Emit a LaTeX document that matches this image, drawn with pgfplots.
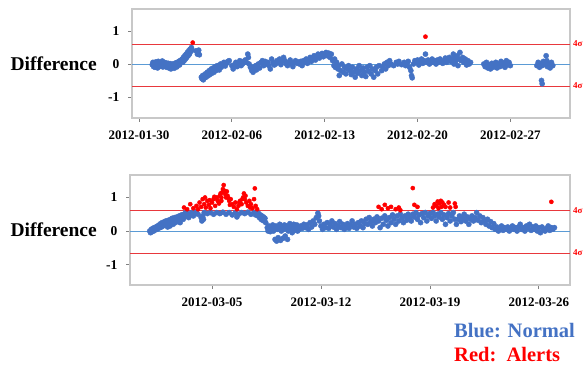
\documentclass[border=0pt]{standalone}
\usepackage{fontspec}
\setmainfont{Liberation Serif}
\usepackage{pgfplots}
\pgfplotsset{compat=1.18}
\definecolor{ptblue}{HTML}{4472C4}
\definecolor{zeroblue}{HTML}{5B9BD5}
\definecolor{limred}{HTML}{E8383D}
\definecolor{framegray}{HTML}{C8C8C8}
\pgfplotsset{diffaxis/.style={
  scale only axis,
  axis line style={draw=framegray, line width=1.6pt},
  tick style={draw=gray, line width=0.8pt},
  tick align=outside, major tick length=4pt,
  xtick pos=bottom, ytick pos=left,
  ytick={-1,0,1}, yticklabels={-1,0,1},
  yticklabel style={font=\bfseries\fontsize{13.5}{14}\selectfont, xshift=-5pt},
  xticklabel style={font=\bfseries\fontsize{13}{14}\selectfont, yshift=-5pt},
  /pgf/number format/assume math mode=true,
  clip=true,
}}
\begin{document}
\begin{tikzpicture}
\path[use as bounding box] (-132pt,-248pt) rectangle (453pt,118pt);
% ---------- top panel ----------
\begin{axis}[diffaxis, at={(0,0)}, anchor=south west,
  width=438pt, height=109pt,
  xmin=-0.53, xmax=32.5, ymin=-1.64, ymax=1.67,
  xtick={0,7,14,21,28},
  xticklabels={2012-01-30,2012-02-06,2012-02-13,2012-02-20,2012-02-27}]
\addplot[zeroblue, line width=0.9pt] coordinates {(-0.53,0)(32.5,0)};
\addplot[limred, line width=1.1pt] coordinates {(-0.53,0.6)(32.5,0.6)};
\addplot[limred, line width=1.1pt] coordinates {(-0.53,-0.68)(32.5,-0.68)};
\addplot[only marks, mark=*, mark size=2.6pt, ptblue] coordinates {
(1.0,-0.02)(1.05,0.05)(1.1,-0.08)(1.15,0.0)(1.2,-0.1)(1.25,0.06)(1.3,-0.03)(1.35,0.02)(1.4,-0.12)(1.45,0.08)(1.5,-0.05)(1.55,0.01)(1.6,-0.07)(1.65,0.04)(1.7,-0.02)(1.75,0.09)(1.8,-0.09)(1.85,0.0)(1.9,0.05)(1.95,-0.04)(2.0,-0.08)(2.05,0.03)(2.1,-0.1)(2.15,-0.02)(2.2,0.02)(2.25,-0.12)(2.3,-0.05)(2.35,0.01)(2.4,-0.15)(2.45,-0.06)(2.5,-0.1)(2.55,0.0)(2.6,-0.04)(2.65,-0.13)(2.7,-0.07)(2.75,0.03)(2.8,-0.02)(2.85,-0.09)(2.9,0.05)(2.95,0.0)(3.0,0.08)(3.05,-0.03)(3.1,0.1)(3.15,0.04)(3.2,0.12)
(3.25,0.15)(3.3,0.05)(3.35,0.2)(3.4,0.1)(3.45,0.25)(3.5,0.15)(3.55,0.3)(3.6,0.2)(3.65,0.35)(3.7,0.25)(3.75,0.4)(3.8,0.3)(3.85,0.45)(3.9,0.38)(3.95,0.5)(4.0,0.42)
(4.3,0.4)(4.4,0.3)(4.45,0.35)(4.5,0.42)(4.55,0.28)
(4.7,-0.4)(4.75,-0.45)(4.8,-0.35)(4.85,-0.48)(4.9,-0.38)(4.95,-0.42)(5.0,-0.3)(5.05,-0.4)(5.1,-0.33)(5.15,-0.25)(5.2,-0.36)(5.25,-0.28)(5.3,-0.2)(5.35,-0.32)(5.4,-0.24)(5.45,-0.15)(5.5,-0.28)(5.55,-0.2)(5.6,-0.12)(5.65,-0.25)(5.7,-0.16)(5.75,-0.08)(5.8,-0.2)(5.85,-0.12)(5.9,-0.05)(5.95,-0.15)(6.0,-0.08)(6.05,-0.18)(6.1,-0.05)(6.15,0.0)(6.2,-0.1)(6.3,-0.03)(6.4,0.05)(6.5,-0.06)(6.6,0.02)(6.7,0.08)(6.8,0.1)
(7.0,-0.05)(7.1,-0.15)(7.2,-0.02)(7.3,0.05)(7.4,-0.08)(7.5,0.02)(7.6,0.1)(7.7,-0.05)(7.8,0.0)(7.9,0.08)(8.0,0.12)(8.1,0.05)(8.2,0.3)(8.25,0.2)(8.3,0.0)(8.4,-0.1)(8.5,-0.2)(8.55,-0.1)(8.6,-0.25)(8.7,-0.15)(8.8,-0.05)(8.85,-0.18)(8.9,-0.1)(9.0,0.0)(9.1,-0.12)(9.2,0.05)(9.3,0.1)(9.4,-0.05)(9.5,0.08)(9.6,0.0)(9.7,0.05)(9.8,-0.05)(9.9,-0.15)(10.0,0.15)(10.1,0.05)(10.2,-0.03)(10.3,0.0)(10.4,0.1)(10.5,0.05)(10.6,0.15)(10.7,-0.02)(10.8,0.08)(10.9,0.2)(11.0,0.1)(11.1,0.0)(11.2,-0.05)(11.3,0.05)(11.4,0.12)(11.5,0.0)(11.6,-0.08)(11.7,0.05)(11.8,0.1)(11.9,0.02)(12.0,0.06)
(12.1,0.0)(12.2,0.08)(12.3,-0.05)(12.4,0.1)(12.5,0.05)(12.6,0.15)(12.7,0.02)(12.8,0.12)(12.9,0.2)(13.0,0.08)(13.1,0.18)(13.2,0.25)(13.3,0.12)(13.4,0.22)(13.5,0.3)(13.6,0.18)(13.7,0.28)(13.8,0.32)(13.9,0.22)(14.0,0.3)(14.1,0.35)(14.2,0.25)(14.3,0.33)(14.4,0.2)(14.5,0.3)
(14.6,0.1)(14.7,-0.05)(14.75,0.15)(14.8,-0.1)(14.9,0.05)(15.0,-0.15)(15.05,-0.05)(15.1,-0.35)(15.2,-0.2)(15.3,0.0)(15.4,-0.25)(15.5,-0.1)(15.6,-0.3)(15.7,-0.15)(15.8,-0.05)(15.9,-0.2)(16.0,-0.32)(16.1,-0.1)(16.2,-0.25)(16.3,-0.4)(16.4,-0.15)(16.5,-0.28)(16.6,-0.05)(16.7,-0.2)(16.8,-0.35)(16.9,-0.12)(17.0,-0.25)(17.1,-0.38)(17.2,-0.1)(17.3,-0.22)(17.4,-0.05)(17.5,-0.3)(17.6,-0.15)(17.7,-0.4)(17.8,-0.2)(17.9,-0.1)(18.0,-0.3)(18.1,-0.05)
(18.3,-0.2)(18.4,-0.1)(18.5,0.0)(18.6,-0.15)(18.7,0.05)(18.8,-0.05)(18.9,0.1)(19.0,0.0)(19.2,-0.05)(19.4,0.05)(19.5,0.0)(19.6,0.08)(19.8,-0.02)(20.0,0.05)(20.1,-0.05)(20.2,0.02)(20.3,0.08)(20.4,-0.1)(20.5,-0.2)(20.55,-0.35)(20.6,-0.42)(20.7,0.0)
(20.8,0.1)(20.9,0.05)(21.0,0.12)(21.1,-0.03)(21.2,0.08)(21.3,0.15)(21.4,0.02)(21.5,0.1)(21.6,0.3)(21.7,0.05)(21.8,0.12)(21.9,0.0)(22.0,0.08)(22.1,0.15)(22.2,0.05)(22.3,0.1)(22.4,0.0)(22.5,0.12)(22.6,0.06)(22.7,0.15)(22.8,0.08)(22.9,0.02)(23.0,0.1)(23.1,0.18)(23.2,0.05)(23.3,0.12)(23.4,0.2)(23.5,0.08)(23.6,0.15)(23.7,0.3)(23.75,0.0)(23.8,0.2)(23.85,0.05)(23.9,0.12)(24.0,0.25)(24.05,-0.05)(24.1,0.15)(24.2,0.35)(24.3,0.1)(24.4,0.2)(24.5,0.05)(24.6,0.15)(24.7,-0.03)(24.8,0.1)(24.9,0.0)(25.0,0.05)
(26.0,0.0)(26.1,-0.08)(26.2,0.05)(26.3,-0.12)(26.4,-0.02)(26.5,-0.15)(26.6,0.02)(26.7,-0.1)(26.8,-0.05)(26.9,0.05)(27.0,-0.12)(27.1,0.0)(27.2,-0.08)(27.3,0.08)(27.4,-0.05)(27.5,0.03)(27.6,-0.1)(27.7,0.1)(27.8,-0.02)(27.9,0.05)(28.0,-0.05)
(30.0,-0.05)(30.1,0.05)(30.2,-0.1)(30.3,0.02)(30.4,-0.05)(30.35,-0.5)(30.4,-0.6)(30.5,0.08)(30.6,-0.02)(30.7,0.25)(30.75,0.1)(30.8,-0.08)(30.9,0.0)(31.0,-0.12)(31.1,0.05)(31.2,-0.05)
};
\addplot[only marks, mark=*, mark size=2.1pt, red] coordinates {(4.05,0.65)(21.6,0.83)};
\end{axis}
% ---------- bottom panel ----------
\begin{axis}[diffaxis, at={(-2pt,-167pt)}, anchor=south west,
  width=440pt, height=110pt,
  xmin=-5.27, xmax=23.0, ymin=-1.61, ymax=1.67,
  xtick={0,7,14,21},
  xticklabels={2012-03-05,2012-03-12,2012-03-19,2012-03-26}]
\addplot[zeroblue, line width=0.9pt] coordinates {(-5.27,0)(23.0,0)};
\addplot[limred, line width=1.1pt] coordinates {(-5.27,0.6)(23.0,0.6)};
\addplot[limred, line width=1.1pt] coordinates {(-5.27,-0.66)(23.0,-0.66)};
\addplot[only marks, mark=*, mark size=2.6pt, ptblue] coordinates {
(-4.0,0.0)(-3.95,-0.05)(-3.9,0.05)(-3.85,-0.02)(-3.8,0.08)(-3.75,0.0)(-3.7,0.1)(-3.65,0.03)(-3.6,0.12)(-3.55,0.05)(-3.5,0.15)(-3.45,0.08)(-3.4,0.18)(-3.35,0.1)(-3.3,0.22)(-3.25,0.12)(-3.2,0.25)(-3.15,0.15)(-3.1,0.2)(-3.05,0.28)(-3.0,0.18)(-2.95,0.3)(-2.9,0.22)(-2.85,0.12)(-2.8,0.32)(-2.75,0.25)(-2.7,0.15)(-2.65,0.35)(-2.6,0.28)(-2.55,0.38)(-2.5,0.2)(-2.45,0.3)(-2.4,0.4)(-2.35,0.25)(-2.3,0.35)(-2.25,0.42)(-2.2,0.3)(-2.15,0.38)(-2.1,0.45)(-2.05,0.25)(-2.0,0.4)(-1.95,0.48)
(-1.85,0.35)(-1.8,0.5)(-1.75,0.42)(-1.7,0.55)(-1.6,0.45)(-1.55,0.52)(-1.5,0.4)(-1.4,0.48)(-1.3,0.55)(-1.2,0.45)(-1.1,0.52)(-1.0,0.58)(-0.9,0.5)
(-0.7,0.4)(-0.65,0.3)(-0.6,0.45)(-0.55,0.35)(-0.5,0.55)(-0.3,0.52)(-0.1,0.55)(0.1,0.5)(0.3,0.55)(0.5,0.52)(0.7,0.56)(0.9,0.5)(1.1,0.55)(1.3,0.48)(1.5,0.55)(1.6,0.42)(1.7,0.5)(1.9,0.55)(2.1,0.52)(2.3,0.56)(2.5,0.5)(2.7,0.55)(2.8,0.48)
(2.9,0.55)(2.95,0.45)(3.0,0.52)(3.05,0.4)(3.1,0.48)(3.15,0.35)(3.2,0.45)(3.25,0.32)(3.3,0.42)(3.35,0.3)(3.4,0.38)(3.45,0.25)
(3.55,0.1)(3.6,0.0)(3.65,0.15)(3.7,0.05)(3.75,-0.02)(3.8,0.12)(3.85,0.05)(3.9,0.18)(3.95,0.0)(4.0,0.08)(4.05,-0.25)(4.1,0.15)(4.15,-0.3)(4.2,0.05)(4.25,-0.2)(4.3,0.1)(4.35,0.2)(4.4,-0.28)(4.45,0.0)(4.5,0.12)(4.55,-0.22)(4.6,0.05)(4.65,0.18)(4.7,-0.15)(4.75,0.08)(4.8,0.15)(4.85,-0.25)(4.9,0.0)(4.95,0.1)(5.0,0.22)(5.05,0.05)(5.1,0.15)(5.15,-0.05)(5.2,0.1)(5.25,0.2)(5.3,0.02)(5.35,0.12)(5.4,0.05)(5.45,0.18)(5.5,0.0)(5.55,0.1)
(5.6,0.05)(5.7,0.15)(5.8,0.08)(5.9,0.2)(6.0,0.1)(6.1,0.18)(6.2,0.05)(6.3,0.25)(6.4,0.12)(6.5,0.3)(6.6,0.2)(6.7,0.4)(6.8,0.53)(6.85,0.45)(6.9,0.3)
(7.0,0.15)(7.1,0.05)(7.2,0.2)(7.3,0.1)(7.4,0.25)(7.5,0.08)(7.6,0.18)(7.7,0.3)(7.8,0.12)(7.9,0.22)(8.0,0.05)(8.1,0.15)(8.2,0.28)(8.3,0.1)(8.4,0.2)(8.5,0.05)(8.6,0.12)(8.7,0.22)(8.8,0.08)(8.9,0.18)(9.0,0.3)(9.1,0.12)(9.2,0.2)(9.3,0.08)(9.4,0.25)(9.5,0.15)(9.6,0.3)(9.7,0.1)(9.8,0.22)
(9.9,0.35)(10.0,0.2)(10.1,0.4)(10.2,0.28)(10.3,0.15)(10.4,0.35)(10.5,0.25)(10.6,0.42)(10.7,0.3)(10.8,0.1)(10.9,0.38)(11.0,0.2)(11.1,0.45)(11.2,0.32)(11.3,0.15)(11.4,0.4)(11.5,0.25)(11.6,0.48)(11.7,0.35)(11.8,0.2)(11.9,0.45)(12.0,0.3)(12.1,0.5)(12.2,0.38)(12.3,0.25)(12.4,0.45)(12.5,0.32)(12.6,0.5)
(12.7,0.4)(12.8,0.3)(12.9,0.5)(13.0,0.42)(13.1,0.55)(13.2,0.35)(13.3,0.48)(13.4,0.25)(13.5,0.52)(13.6,0.4)(13.7,0.55)(13.8,0.3)(13.9,0.45)(14.0,0.52)(14.1,0.38)(14.2,0.55)(14.3,0.45)(14.4,0.3)(14.5,0.5)(14.6,0.42)(14.7,0.55)(14.8,0.35)(14.9,0.48)(15.0,0.2)(15.1,0.4)(15.2,0.52)(15.3,0.3)(15.4,0.45)(15.5,0.55)(15.6,0.35)
(15.7,0.2)(15.8,0.35)(15.9,0.45)(16.0,0.28)(16.1,0.38)(16.2,0.5)(16.3,0.3)(16.4,0.42)(16.5,0.2)(16.6,0.35)(16.7,0.45)(16.8,0.3)(16.9,0.4)(17.0,0.55)(17.1,0.32)(17.2,0.45)(17.3,0.25)(17.4,0.4)(17.5,0.3)(17.6,0.2)(17.7,0.35)(17.8,0.15)(17.9,0.28)(18.0,0.1)(18.1,0.22)
(18.2,0.05)(18.3,0.12)(18.4,0.0)(18.5,0.08)(18.6,0.15)(18.7,0.02)(18.8,0.1)(18.9,0.05)(19.0,0.12)(19.1,0.0)(19.2,0.08)(19.3,0.15)(19.4,0.05)(19.5,0.1)(19.6,0.0)(19.7,0.12)(19.8,0.2)(19.9,0.05)(20.0,0.1)(20.1,0.0)(20.2,0.15)(20.3,0.08)(20.4,0.2)(20.5,0.02)(20.6,0.12)(20.7,0.05)(20.8,0.15)(20.9,0.0)(21.0,0.1)(21.1,-0.05)(21.2,0.12)(21.3,0.05)(21.4,0.0)(21.5,0.08)(21.6,0.15)(21.7,0.02)(21.8,0.1)(21.9,0.05)(22.0,0.1)
};
\addplot[only marks, mark=*, mark size=2.1pt, red] coordinates {
(-1.8,0.7)(-1.6,0.65)(-1.4,0.8)(-1.2,0.68)(-1.0,0.75)(-0.9,0.65)(-0.8,0.85)(-0.7,0.72)(-0.6,0.95)(-0.5,0.8)(-0.4,0.7)(-0.3,0.9)(-0.2,0.78)(-0.1,0.68)(0.0,0.85)(0.1,0.95)(0.2,0.75)(0.3,1.0)(0.4,0.88)(0.5,1.05)(0.6,0.9)(0.65,1.15)(0.7,1.25)(0.75,1.37)(0.8,1.2)(0.85,1.1)(0.9,1.0)(1.0,1.05)(1.1,0.9)(1.2,0.95)(1.3,0.8)(1.4,0.72)(1.5,0.85)(1.6,0.65)(1.7,0.75)(1.8,0.9)(1.9,0.8)(2.0,1.0)(2.05,1.12)(2.1,0.95)(2.2,0.85)(2.3,0.75)(2.4,0.9)(2.5,0.8)(2.6,0.68)(2.7,0.95)(2.75,1.27)(2.8,0.75)(2.9,0.65)
(-0.45,1.0)(0.15,1.02)(0.55,1.12)(0.6,1.0)(0.95,1.18)(1.05,0.98)(0.35,0.92)(0.45,0.82)(1.15,0.78)(1.75,0.85)(1.95,0.95)(2.15,1.05)(2.45,0.7)(-0.15,0.92)
(10.7,0.72)(10.9,0.65)(11.1,0.78)(11.3,0.68)(11.5,0.72)(11.8,0.65)(12.0,0.7)(12.1,0.62)(12.9,1.28)(13.0,0.78)(13.2,0.72)
(14.2,0.7)(14.3,0.8)(14.4,0.75)(14.5,0.88)(14.55,0.68)(14.6,0.82)(14.7,0.9)(14.75,0.72)(14.8,0.85)(14.9,0.78)(15.0,0.72)(15.2,0.85)(15.3,0.7)(15.6,0.82)(15.65,0.72)
(21.8,0.87)
};
\end{axis}
% ---------- texts ----------
\node[anchor=east, font=\bfseries\fontsize{19.5}{20}\selectfont, inner sep=0pt] at (-35pt,54pt) {Difference};
\node[anchor=east, font=\bfseries\fontsize{19.5}{20}\selectfont, inner sep=0pt] at (-35pt,-112pt) {Difference};
\node[anchor=west, text=red, font=\bfseries\fontsize{9}{10}\selectfont, inner sep=0pt] at (441pt,74pt) {4σ};
\node[anchor=west, text=red, font=\bfseries\fontsize{9}{10}\selectfont, inner sep=0pt] at (441pt,32pt) {4σ};
\node[anchor=west, text=red, font=\bfseries\fontsize{9}{10}\selectfont, inner sep=0pt] at (441pt,-93pt) {4σ};
\node[anchor=west, text=red, font=\bfseries\fontsize{9}{10}\selectfont, inner sep=0pt] at (441pt,-135pt) {4σ};
\node[anchor=west, text=ptblue, font=\bfseries\fontsize{20.5}{21}\selectfont, inner sep=0pt] at (322pt,-213pt) {Blue: Normal};
\node[anchor=west, text=red, font=\bfseries\fontsize{20.5}{21}\selectfont, inner sep=0pt] at (322pt,-237pt) {Red:\ \ Alerts};
\end{tikzpicture}
\end{document}
